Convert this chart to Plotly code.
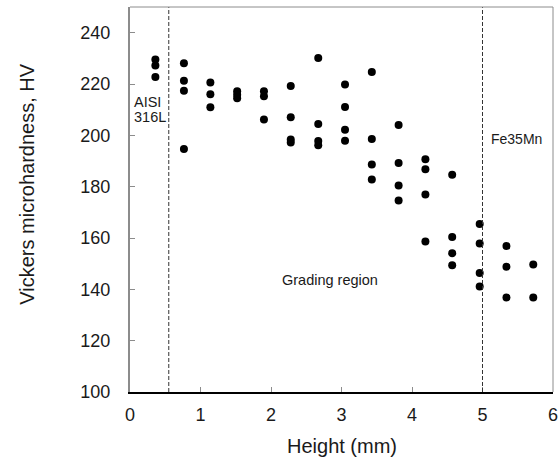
import plotly.graph_objects as go

# Measurement positions along the build height (mm) and Vickers hardness (HV)
height_mm = [
    0.36, 0.36, 0.36,
    0.765, 0.765, 0.765, 0.765,
    1.14, 1.14, 1.14,
    1.52, 1.52, 1.52,
    1.90, 1.90, 1.90,
    2.28, 2.28, 2.28, 2.28,
    2.67, 2.67, 2.67, 2.67,
    3.05, 3.05, 3.05, 3.05,
    3.43, 3.43, 3.43, 3.43,
    3.81, 3.81, 3.81, 3.81,
    4.19, 4.19, 4.19, 4.19,
    4.57, 4.57, 4.57, 4.57,
    4.96, 4.96, 4.96, 4.96,
    5.34, 5.34, 5.34,
    5.72, 5.72,
]
hardness_hv = [
    229.5, 227.2, 222.7,
    228.1, 221.3, 217.4, 194.7,
    220.6, 216.0, 210.9,
    217.2, 215.8, 214.4,
    217.2, 215.2, 206.2,
    219.2, 207.0, 198.4, 197.2,
    230.1, 204.4, 197.8, 196.1,
    219.8, 211.0, 202.2, 197.9,
    224.7, 198.6, 188.6, 182.8,
    204.0, 189.2, 180.5, 174.6,
    190.7, 186.8, 176.9, 158.6,
    184.6, 160.4, 154.1, 149.4,
    165.5, 157.9, 146.4, 141.1,
    156.9, 148.8, 136.8,
    149.7, 136.8,
]

# Boundaries of the grading region (mm)
boundaries_mm = [0.55, 5.0]

x_ticks = [0, 1, 2, 3, 4, 5, 6]
y_ticks = [100, 120, 140, 160, 180, 200, 220, 240]

FONT = "Liberation Sans, Arial, sans-serif"
TEXT = "#1a1a1a"

fig = go.Figure()
fig.add_trace(go.Scatter(
    x=height_mm, y=hardness_hv, mode="markers",
    marker=dict(size=8, color="black"),
    showlegend=False, hoverinfo="x+y",
))

shapes = []
for b in boundaries_mm:
    shapes.append(dict(type="line", xref="x", yref="paper", x0=b, x1=b, y0=0, y1=1,
                       line=dict(color="#333333", width=1, dash="4px,2px")))
# top and right frame lines
shapes.append(dict(type="line", xref="paper", yref="paper", x0=0, x1=1, y0=1, y1=1,
                   line=dict(color="#8c8c8c", width=1)))
shapes.append(dict(type="line", xref="paper", yref="paper", x0=1, x1=1, y0=0, y1=1,
                   line=dict(color="#8c8c8c", width=1)))

annotations = [
    dict(x=0.0, xref="x", y=213.0, yref="y", text="AISI", showarrow=False,
         xanchor="left", xshift=2, font=dict(family=FONT, size=14.5, color=TEXT)),
    dict(x=0.0, xref="x", y=207.2, yref="y", text="316L", showarrow=False,
         xanchor="left", xshift=2, font=dict(family=FONT, size=14.5, color=TEXT)),
    dict(x=2.835, xref="x", y=143.8, yref="y", text="Grading region", showarrow=False,
         font=dict(family=FONT, size=14.5, color=TEXT)),
    dict(x=5.48, xref="x", y=198.4, yref="y", text="Fe35Mn", showarrow=False,
         font=dict(family=FONT, size=14, color=TEXT)),
    dict(x=-0.2435, xref="paper", y=0.541, yref="paper", text="Vickers microhardness, HV",
         textangle=-90, showarrow=False, xanchor="center", yanchor="middle",
         font=dict(family=FONT, size=20, color=TEXT)),
    dict(x=0.5, xref="paper", y=-0.14, yref="paper", text="Height (mm)",
         showarrow=False, xanchor="center", yanchor="middle",
         font=dict(family=FONT, size=20, color=TEXT)),
]

fig.update_layout(
    width=559, height=464,
    margin=dict(l=130, r=6, t=7, b=72, autoexpand=False),
    paper_bgcolor="white", plot_bgcolor="white",
    font=dict(family=FONT, size=18, color=TEXT),
    shapes=shapes, annotations=annotations,
    xaxis=dict(
        range=[0, 6], tickvals=x_ticks, ticktext=[str(v) for v in x_ticks],
        showgrid=False, zeroline=False, automargin=False,
        showline=True, linecolor="black", linewidth=1.5,
        ticks="inside", ticklen=5, tickcolor="#8c8c8c", tickwidth=1,
        ticklabelstandoff=6,
        tickfont=dict(family=FONT, size=18, color=TEXT),
    ),
    yaxis=dict(
        range=[100, 250], tickvals=y_ticks, ticktext=[str(v) for v in y_ticks],
        showgrid=False, zeroline=False, automargin=False,
        showline=True, linecolor="#8c8c8c", linewidth=2,
        ticks="inside", ticklen=5, tickcolor="#8c8c8c", tickwidth=1,
        ticklabelstandoff=14,
        tickfont=dict(family=FONT, size=18, color=TEXT),
    ),
)

fig.write_html("out.html")
